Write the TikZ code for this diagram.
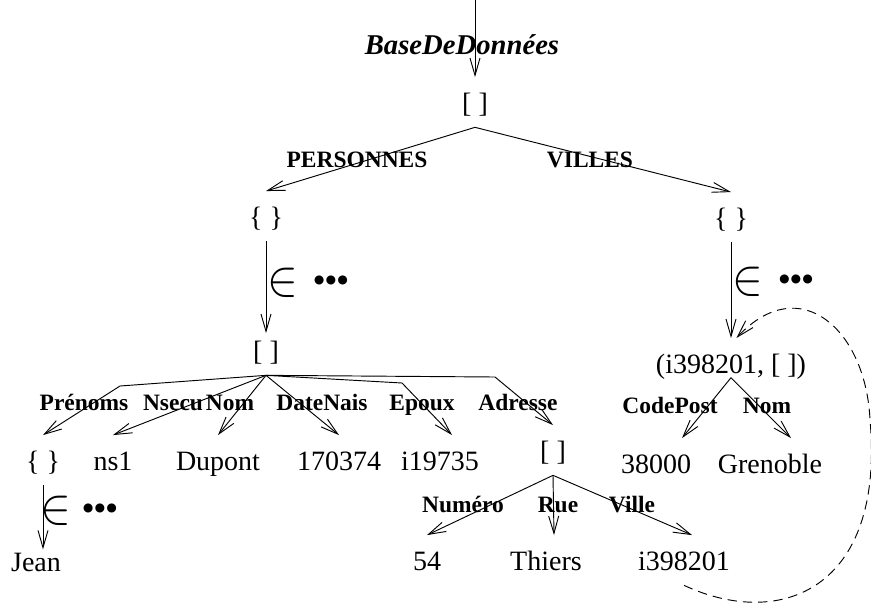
\documentclass[tikz,border=0pt]{standalone}
\usepackage{graphicx}
\usepackage{fontspec}
\setmainfont{Liberation Serif}
\usetikzlibrary{arrows.meta}

\begin{document}
\begin{tikzpicture}[
        x=0.75pt, y=-0.75pt,
        val/.style={anchor=base, font=\fontsize{21}{25}\selectfont, text height=21pt, text depth=6.3pt, inner xsep=2pt, inner ysep=5pt},
        lab/.style={anchor=base, font=\fontsize{17.6}{21}\selectfont\bfseries, inner sep=0pt},
        elem/.style={font=\fontsize{17.28}{20}\selectfont, inner sep=0pt},
        dots/.style={font=\fontsize{25}{28}\selectfont\bfseries, inner sep=0pt},
        arrow/.style={-{Straight Barb[length=13pt, width=7.5pt]}, line width=0.7pt},
        ref/.style={arrow, dash pattern=on 7pt off 4.5pt}
    ]
        \useasboundingbox (0,0) rectangle (871,604);

        % Entry point
        \coordinate (in) at (475,0);
        \node[lab, font=\fontsize{21.5}{26}\selectfont\bfseries\itshape] (db) at (462,54) {BaseDeDonnées};
        \node[val] (root) at (475,112) {[ ]};
        \draw[arrow] (in) -- (root.north);

        % Top level
        \node[val] (pers) at (266,226) {\{ \}};
        \node[val] (vil) at (731,227) {\{ \}};
        \node[lab] (lpers) at (357,167) {PERSONNES};
        \node[lab] (lvil) at (590,167) {VILLES};
        \draw[arrow] (root.south) -- (pers.north);
        \draw[arrow] (root.south) -- (vil.north);

        % One person
        \node[val] (pr) at (266,360) {[ ]};
        \draw[arrow, shorten >=-6pt] (pers.south) -- (pr.north);
        \node[elem] (in1) at (283,283) {\scalebox{2}[2.2]{$\in$}};
        \node[dots] (dots1) at (331,284) {•••};

        % Person fields
        \node[val] (prn) at (43,470) {\{ \}};
        \node[val] (nss) at (113,470) {ns1};
        \node[val] (nom) at (218,470) {Dupont};
        \node[val] (nai) at (339,470) {170374};
        \node[val] (epx) at (440,470) {i19735};
        \node[val] (adr) at (553,460) {[ ]};
        \node[lab] (lprn) at (84,410) {Prénoms};
        \node[lab] (lnss) at (173,410) {Nsecu};
        \node[lab] (lnom) at (230,410) {Nom};
        \node[lab] (lnai) at (322,410) {DateNais};
        \node[lab] (lepx) at (422,410) {Epoux};
        \node[lab] (ladr) at (518,410) {Adresse};
        \draw[arrow] (pr.south) -- (120,386) -- (prn.north);
        \draw[arrow] (pr.south) -- (nss.north);
        \draw[arrow] (pr.south) -- (nom.north);
        \draw[arrow] (pr.south) -- (nai.north);
        \draw[arrow] (pr.south) -- (402,383) -- ([xshift=9pt]epx.north);
        \draw[arrow] (pr.south) -- (495,377) -- (adr.north);

        % First names
        \node[val] (jean) at (36,571) {Jean};
        \draw[arrow, shorten >=-10pt] (prn.south) -- (prn.south |- jean.north);
        \node[elem] (in2) at (56,511) {\scalebox{2}[2.2]{$\in$}};
        \node[dots] (dots2) at (100,512) {•••};

        % Address
        \node[val] (num) at (427,570) {54};
        \node[val] (rue) at (546,570) {Thiers};
        \node[val] (vl) at (684,570) {i398201};
        \node[lab] (lnum) at (463,512) {Numéro};
        \node[lab] (lrue) at (558,512) {Rue};
        \node[lab] (lvl) at (632,512) {Ville};
        \draw[arrow] (adr.south) -- (num.north);
        \draw[arrow] (adr.south) -- ([xshift=6pt]rue.north);
        \draw[arrow] (adr.south) -- ([xshift=6pt]vl.north);

        % One city
        \node[val] (cty) at (731,373) {(i398201, [ ])};
        \draw[arrow] (vil.south) -- (cty.north);
        \node[elem] (in3) at (748,282) {\scalebox{2}[2.2]{$\in$}};
        \node[dots] (dots3) at (796,283) {•••};
        \node[val] (cp) at (656,473) {38000};
        \node[val] (cn) at (770,473) {Grenoble};
        \node[lab] (lcp) at (670,413) {CodePost};
        \node[lab] (lcn) at (767,413) {Nom};
        \draw[arrow] ([yshift=8pt]cty.south) -- ([xshift=19.5pt]cp.north);
        \draw[arrow] ([yshift=8pt]cty.south) -- ([xshift=15.75pt]cn.north);

        % Reference back to the city
        \draw[ref] (vl.south) .. controls (780,630) and (885,590) .. (870,420)
            .. controls (866,330) and (800,270) .. ([xshift=4pt]cty.north);
    \end{tikzpicture}
\end{document}
